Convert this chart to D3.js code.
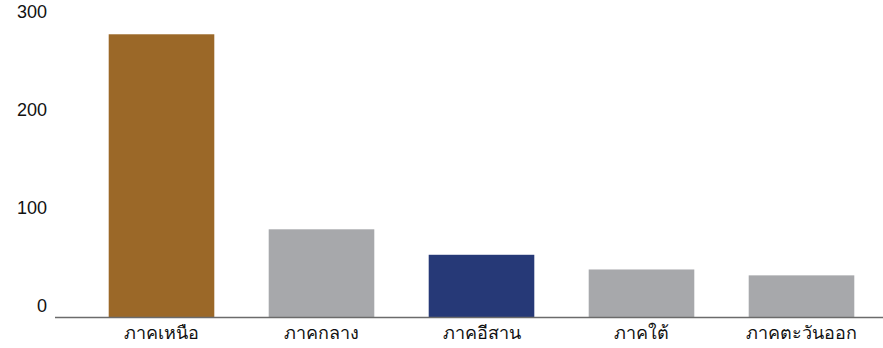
<!DOCTYPE html>
<html>
<head>
<meta charset="utf-8">
<script src="https://cdn.jsdelivr.net/npm/d3@7"></script>
<style>
  body { margin: 0; background: #fff; }
  text { font-family: "Liberation Sans", Arial, "Noto Sans", sans-serif; fill: #111; }
</style>
</head>
<body>
<div id="chart"></div>
<script>
// data
const regions = ['ภาคเหนือ', 'ภาคกลาง', 'ภาคอีสาน', 'ภาคใต้', 'ภาคตะวันออก'];
const counts = [289, 90, 64, 49, 43];
const barColors = ['#9b6828', '#a7a8ab', '#263977', '#a7a8ab', '#a7a8ab'];
const yTicks = [0, 100, 200, 300];

const width = 883, height = 348;
const baseY = 317.5;

let svg = d3.select('#chart')
  .append('svg')
  .attr('width', width)
  .attr('height', height);

let x = d3.scaleBand()
  .domain(regions)
  .range([81.5, 881.5])
  .paddingInner(0.34)
  .paddingOuter(0.17);

let y = d3.scaleLinear()
  .domain([0, 300])
  .range([baseY, baseY - 294]);

// bars
svg.append('g')
  .selectAll('rect')
  .data(regions)
  .enter()
  .append('rect')
    .attr('x', d => x(d))
    .attr('width', x.bandwidth())
    .attr('y', (d, i) => y(counts[i]))
    .attr('height', (d, i) => y(0) - y(counts[i]))
    .attr('fill', (d, i) => barColors[i]);

// baseline
svg.append('line')
  .attr('x1', 55)
  .attr('x2', width)
  .attr('y1', baseY)
  .attr('y2', baseY)
  .attr('stroke', '#6b6b6b')
  .attr('stroke-width', 1.5);

// y labels
svg.append('g')
  .selectAll('text')
  .data(yTicks)
  .enter()
  .append('text')
    .attr('x', 47)
    .attr('y', d => y(d) - 6)
    .attr('text-anchor', 'end')
    .style('font-size', '18px')
    .text(d => d);

// x labels
svg.append('g')
  .selectAll('text')
  .data(regions)
  .enter()
  .append('text')
    .attr('x', d => x(d) + x.bandwidth() / 2)
    .attr('y', 339)
    .attr('text-anchor', 'middle')
    .style('font-size', '18px')
    .text(d => d);
</script>
</body>
</html>
